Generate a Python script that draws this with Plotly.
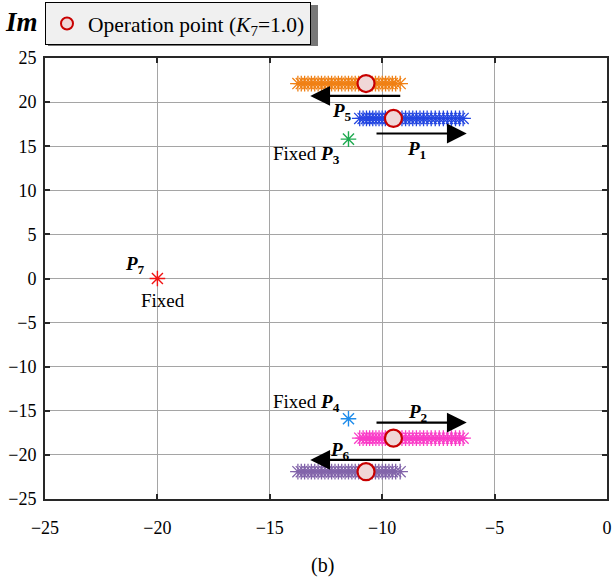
import plotly.graph_objects as go

# Eigenvalue loci (real part, imaginary part) as K7 is swept
p1_re = [-11.0, -10.85, -10.7, -10.56, -10.42, -10.28, -10.14, -10.0, -9.86, -9.72,
         -9.58, -9.44, -9.28, -9.12, -8.96, -8.8, -8.64, -8.48, -8.32, -8.16,
         -8.0, -7.82, -7.64, -7.46, -7.28, -7.1, -6.92, -6.74, -6.56, -6.4]
p1_im = 18.15
p2_re = p1_re
p2_im = -18.1
p5_re = [-13.75, -13.6, -13.45, -13.3, -13.15, -13.0, -12.85, -12.7, -12.55, -12.4,
         -12.25, -12.1, -11.95, -11.8, -11.65, -11.5, -11.35, -11.2, -11.05, -10.9,
         -10.75, -10.6, -10.45, -10.3, -10.15, -10.0, -9.85, -9.7, -9.55, -9.4, -9.2]
p5_im = 22.1
p6_re = p5_re
p6_im = -21.9

# Fixed eigenvalues
p3 = (-11.5, 15.8)
p4 = (-11.5, -15.9)
p7 = (-20.0, 0.0)

# Operation points at K7 = 1.0
op_re = [-10.72, -9.5, -9.5, -10.72]
op_im = [22.1, 18.15, -18.1, -21.9]

x_ticks = [-25, -20, -15, -10, -5, 0]
y_ticks = [25, 20, 15, 10, 5, 0, -5, -10, -15, -20, -25]

FONT = "Liberation Serif, Times New Roman, serif"

fig = go.Figure()

def locus(xs, y, color):
    fig.add_trace(go.Scatter(
        x=xs, y=[y] * len(xs), mode="markers", showlegend=False,
        marker=dict(symbol="asterisk-open", size=13, color=color,
                    line=dict(color=color, width=1.3)),
    ))

locus(p5_re, p5_im, "rgb(240,128,20)")
locus(p1_re, p1_im, "rgb(35,70,225)")
locus(p2_re, p2_im, "rgb(250,60,200)")
locus(p6_re, p6_im, "rgb(130,100,170)")

for (px, py), col in [(p3, "rgb(30,170,80)"), (p4, "rgb(30,140,235)"), (p7, "rgb(240,20,20)")]:
    fig.add_trace(go.Scatter(
        x=[px], y=[py], mode="markers", showlegend=False,
        marker=dict(symbol="asterisk-open", size=13, color=col,
                    line=dict(color=col, width=1.4)),
    ))

fig.add_trace(go.Scatter(
    x=op_re, y=op_im, mode="markers",
    name="Operation point (<i>K</i><sub>7</sub>=1.0)",
    marker=dict(symbol="circle", size=17, color="rgb(240,215,215)",
                line=dict(color="rgb(200,0,0)", width=2.2)),
))

# Direction arrows (tail -> head)
arrows = [
    ((-9.13, 20.7), (-13.2, 20.7)),
    ((-10.32, 16.44), (-6.24, 16.44)),
    ((-10.32, -16.33), (-6.24, -16.33)),
    ((-9.13, -20.57), (-13.2, -20.57)),
]
for (tx, ty), (hx, hy) in arrows:
    fig.add_annotation(x=hx, y=hy, ax=tx, ay=ty, xref="x", yref="y", axref="x", ayref="y",
                       text="", showarrow=True, arrowhead=2, arrowsize=1.8,
                       arrowwidth=2.2, arrowcolor="black")

def bp(n):
    return f"<b><i>P</i></b><sub><b>{n}</b></sub>"

labels = [
    (-11.8, 18.9, bp(5)),
    (-8.47, 14.55, bp(1)),
    (-13.36, 14.0, "Fixed " + bp(3)),
    (-8.4, -15.2, bp(2)),
    (-11.88, -19.55, bp(6)),
    (-13.36, -14.06, "Fixed " + bp(4)),
    (-21.0, 1.5, bp(7)),
    (-19.74, -2.5, "Fixed"),
]
for x, y, t in labels:
    fig.add_annotation(x=x, y=y, xref="x", yref="y", text=t, showarrow=False,
                       font=dict(family=FONT, size=19, color="black"))

W, H = 615, 580
L, R, T, B = 45, 8, 58, 81
pw, ph = W - L - R, H - T - B

def px2paper(x, y):
    return (x - L) / pw, 1 - (y - T) / ph

# Axis label and panel caption, placed in page pixels
ix, iy = px2paper(21, 22)
fig.add_annotation(x=ix, y=iy, xref="paper", yref="paper", text="<b><i>Im</i></b>",
                   xanchor="center", yanchor="middle",
                   showarrow=False, font=dict(family=FONT, size=27, color="black"))
cx, cy = px2paper(322, 565)
fig.add_annotation(x=cx, y=cy, xref="paper", yref="paper", text="(b)",
                   xanchor="center", yanchor="middle",
                   showarrow=False, font=dict(family=FONT, size=20, color="black"))

# legend drop shadow
sx0, sy0 = px2paper(48, 5)
sx1, sy1 = px2paper(318, 46)
fig.add_shape(type="rect", xref="paper", yref="paper", x0=sx0, y0=sy1, x1=sx1, y1=sy0,
              fillcolor="rgb(120,120,120)", line=dict(width=0), layer="below")

lx, ly = px2paper(45, 2)

axis_style = dict(
    showgrid=True, gridcolor="rgb(165,165,165)", gridwidth=1, zeroline=False,
    showline=True, linecolor="rgb(40,40,40)", linewidth=2, mirror="ticks",
    ticks="inside", ticklen=5, tickcolor="rgb(40,40,40)", tickwidth=2,
    tickfont=dict(family=FONT, size=18),
)

fig.update_layout(
    width=W, height=H,
    margin=dict(l=L, r=R, t=T, b=B, autoexpand=False),
    paper_bgcolor="white", plot_bgcolor="white",
    font=dict(family=FONT, size=18, color="black"),
    showlegend=True,
    legend=dict(x=lx, y=ly, xanchor="left", yanchor="top",
                bgcolor="rgb(240,240,240)", bordercolor="black", borderwidth=1,
                font=dict(family=FONT, size=21.5, color="black"),
                itemsizing="constant", itemwidth=32),
    xaxis=dict(range=[-25, 0], tickvals=x_ticks, ticklabelstandoff=11, **axis_style),
    yaxis=dict(range=[-25, 25], tickvals=y_ticks, ticklabelstandoff=3, **axis_style),
)

fig.write_html("out.html")
